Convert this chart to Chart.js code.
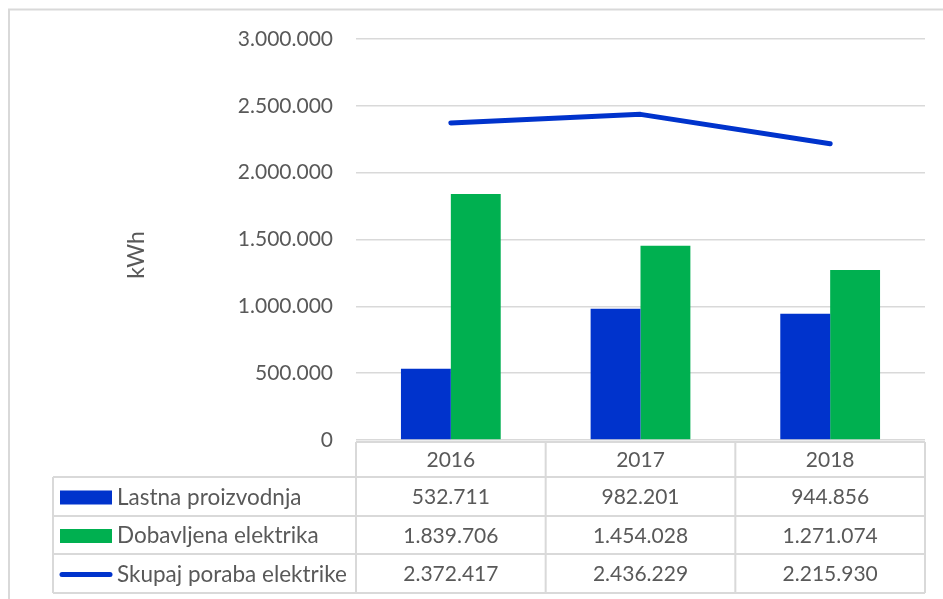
<!DOCTYPE html>
<html lang="sl">
<head>
<meta charset="utf-8">
<title>Poraba elektrike</title>
<script src="https://cdn.jsdelivr.net/npm/chart.js"></script>
<style>
  html, body { margin: 0; padding: 0; background: #fff; }
  #wrap { width: 943px; height: 599px; }
</style>
</head>
<body>
<div id="wrap"><canvas id="chart" width="943" height="599"></canvas></div>
<script>
// podatki
const years = ['2016', '2017', '2018'];
const lastna = [532711, 982201, 944856];
const dobavljena = [1839706, 1454028, 1271074];
const skupaj = [2372417, 2436229, 2215930];
const seriesNames = ['Lastna proizvodnja', 'Dobavljena elektrika', 'Skupaj poraba elektrike'];
const axisTitle = 'kWh';

const BLUE = '#0033cc';
const GREEN = '#00b050';
const GRID = '#d9d9d9';
const TEXT = '#595959';
const FONT = 'Lato, "Open Sans", sans-serif';

// 1234567 -> 1.234.567
function fmt(v) {
  return String(Math.round(v)).replace(/\B(?=(\d{3})+(?!\d))/g, '.');
}

// tabela s podatki pod grafom + okvir + naslov osi
const dataTable = {
  id: 'dataTable',
  beforeDraw(chart) {
    const ctx = chart.ctx;
    ctx.save();
    ctx.strokeStyle = GRID;
    ctx.lineWidth = 2;
    ctx.beginPath();
    ctx.moveTo(9, chart.height);
    ctx.lineTo(9, 9.5);
    ctx.lineTo(chart.width, 9.5);
    ctx.stroke();
    ctx.restore();
  },
  afterDraw(chart) {
    const ctx = chart.ctx;
    const x = chart.scales.x;
    const area = chart.chartArea;
    const colW = (area.right - area.left) / years.length;
    const rows = [442, 477, 516, 554, 593];
    const tableLeft = 53;

    ctx.save();
    ctx.strokeStyle = GRID;
    ctx.lineWidth = 2;
    ctx.beginPath();
    // header row
    ctx.moveTo(area.left, rows[0]);
    ctx.lineTo(area.right, rows[0]);
    for (let r = 1; r < rows.length; r++) {
      ctx.moveTo(tableLeft, rows[r]);
      ctx.lineTo(area.right, rows[r]);
    }
    for (let i = 0; i <= years.length; i++) {
      const cx = area.left + i * colW;
      ctx.moveTo(cx, rows[0]);
      ctx.lineTo(cx, rows[rows.length - 1]);
    }
    ctx.moveTo(tableLeft, rows[1]);
    ctx.lineTo(tableLeft, rows[rows.length - 1]);
    ctx.stroke();

    ctx.fillStyle = TEXT;
    ctx.font = '21px ' + FONT;
    ctx.textAlign = 'center';
    ctx.textBaseline = 'middle';
    years.forEach((y, i) => {
      ctx.fillText(y, x.getPixelForValue(i), (rows[0] + rows[1]) / 2 + 1);
    });

    chart.data.datasets.forEach((ds, d) => {
      const cy = (rows[d + 1] + rows[d + 2]) / 2 + 1;
      // legend key
      if (ds.type === 'line') {
        ctx.strokeStyle = ds.borderColor;
        ctx.lineWidth = 5;
        ctx.lineCap = 'round';
        ctx.beginPath();
        ctx.moveTo(62, cy);
        ctx.lineTo(110, cy);
        ctx.stroke();
      } else {
        ctx.fillStyle = ds.backgroundColor;
        ctx.fillRect(60, cy - 7, 52, 14);
      }
      ctx.fillStyle = TEXT;
      ctx.textAlign = 'left';
      ctx.font = '22.5px ' + FONT;
      ctx.fillText(ds.label, 117, cy);
      ctx.textAlign = 'center';
      ctx.font = '21px ' + FONT;
      ds.data.forEach((v, i) => {
        ctx.fillText(fmt(v), x.getPixelForValue(i), cy);
      });
    });

    // naslov osi
    ctx.translate(137, 255);
    ctx.rotate(-Math.PI / 2);
    ctx.font = '23px ' + FONT;
    ctx.fillText(axisTitle, 0, 0);
    ctx.restore();
  }
};

new Chart(document.getElementById('chart'), {
  data: {
    labels: years,
    datasets: [
      {
        type: 'bar',
        label: seriesNames[0],
        data: lastna,
        backgroundColor: BLUE,
        borderWidth: 0,
        order: 2
      },
      {
        type: 'bar',
        label: seriesNames[1],
        data: dobavljena,
        backgroundColor: GREEN,
        borderWidth: 0,
        order: 2
      },
      {
        type: 'line',
        label: seriesNames[2],
        data: skupaj,
        borderColor: BLUE,
        backgroundColor: BLUE,
        borderWidth: 5,
        borderCapStyle: 'round',
        borderJoinStyle: 'round',
        pointRadius: 0,
        tension: 0,
        order: 1
      }
    ]
  },
  options: {
    responsive: false,
    animation: false,
    layout: { padding: { left: 0, top: 39, right: 18, bottom: 159 } },
    datasets: {
      bar: { categoryPercentage: 0.526, barPercentage: 1 }
    },
    plugins: {
      legend: { display: false },
      tooltip: { enabled: false }
    },
    scales: {
      x: {
        display: false
      },
      y: {
        min: 0,
        max: 3000000,
        border: { display: false },
        grid: { color: GRID, lineWidth: 1.5, drawTicks: false },
        ticks: {
          stepSize: 500000,
          padding: 23,
          color: TEXT,
          font: { family: FONT, size: 21 },
          callback: (v) => fmt(v)
        },
        afterFit(scale) { scale.width = 356; }
      }
    }
  },
  plugins: [dataTable]
});
</script>
</body>
</html>
